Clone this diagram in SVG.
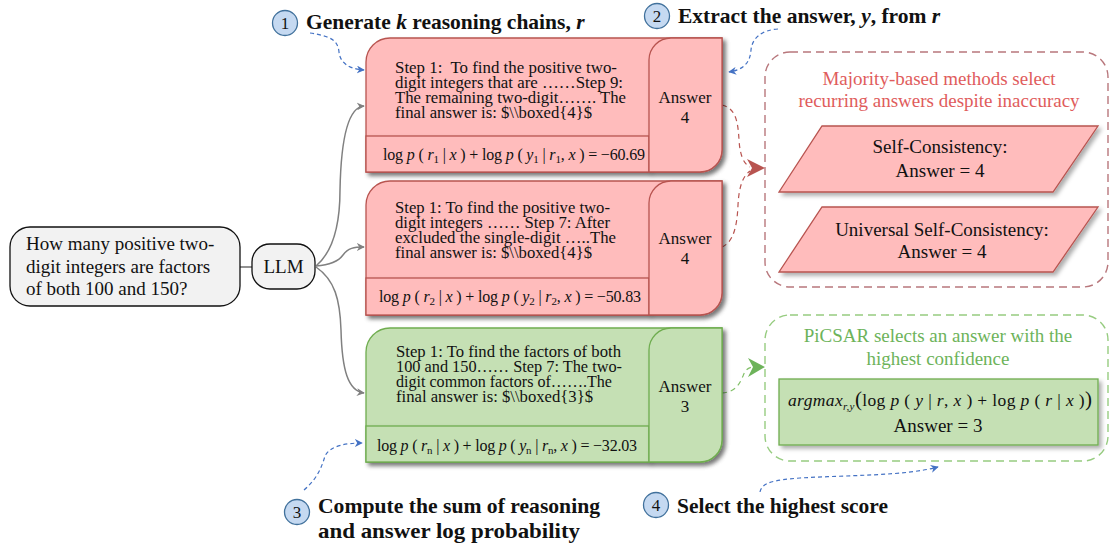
<svg xmlns="http://www.w3.org/2000/svg" width="1110" height="544" viewBox="0 0 1110 544">
  <defs>
    <filter id="shadow" x="-10%" y="-10%" width="125%" height="135%">
      <feDropShadow dx="3" dy="3" stdDeviation="2.2" flood-color="#000" flood-opacity="0.32"/>
    </filter>
    <marker id="arrGray" viewBox="0 0 10 10" refX="9" refY="5" markerWidth="8" markerHeight="8" markerUnits="userSpaceOnUse" orient="auto">
      <path d="M0,0 L10,5 L0,10 L3,5 Z" fill="#808080"/>
    </marker>
    <marker id="arrBlue" viewBox="0 0 10 10" refX="9" refY="5" markerWidth="8" markerHeight="8" markerUnits="userSpaceOnUse" orient="auto">
      <path d="M0,0 L10,5 L0,10 L3,5 Z" fill="#4472c4"/>
    </marker>
    <style>
      text { font-family: "Liberation Serif", "Times New Roman", serif; fill: #111; }
      .q { font-size: 19px; }
      .step { font-size: 16px; }
      .ans { font-size: 17px; text-anchor: middle; }
      .fm { font-size: 16px; }
      .i { font-style: italic; }
      .s { font-size: 11px; }
      .hd { font-size: 21.5px; font-weight: bold; }
      .hd2 { font-size: 21.5px; font-weight: bold; }
      .num { font-size: 17px; text-anchor: middle; }
      .mid { font-size: 19px; text-anchor: middle; }
      .redT { fill: #e05c5c; }
      .greenT { fill: #6db35a; }
      .redBox { fill: #ffbcbc; stroke: #b85450; stroke-width: 1.3; }
      .greenBox { fill: #c5e0b4; stroke: #6fad4f; stroke-width: 1.3; }
      .sh { filter: url(#shadow); }
      .circ { fill: #c5d9f1; stroke: #41719c; stroke-width: 1.3; }
      .gray { fill: none; stroke: #808080; stroke-width: 1.5; }
      .blue { fill: none; stroke: #4472c4; stroke-width: 1.2; stroke-dasharray: 4 3; }
      .redDash { fill: none; stroke: #b85450; stroke-width: 1.2; stroke-dasharray: 5 4; }
      .greenDash { fill: none; stroke: #82c068; stroke-width: 1.2; stroke-dasharray: 5 4; }
    </style>
  </defs>

  <!-- connectors -->
  <g id="connectors">
    <line x1="240" y1="267" x2="252" y2="267" stroke="#555" stroke-width="1.3"/>
    <path class="gray" d="M316,266 C335,250 340,220 340,190 C341,140 348,107 364,106" marker-end="url(#arrGray)"/>
    <path class="gray" d="M316,266 C330,265 338,262 343,255 C348,248 354,247 364,247" marker-end="url(#arrGray)"/>
    <path class="gray" d="M316,267 C335,280 340,300 341,330 C342,370 348,391 364,393" marker-end="url(#arrGray)"/>

    <path class="blue" d="M310,33 C330,36 338,40 339,52 C340,62 348,69 364,70" marker-end="url(#arrBlue)"/>
    <path class="blue" d="M778,29 C762,30 752,38 751,50 C750,64 742,70 729,72" marker-end="url(#arrBlue)"/>
    <path class="blue" d="M304,490 C318,478 322,466 325,456 C330,446 345,443 362,443" marker-end="url(#arrBlue)"/>
    <path class="blue" d="M760,492 C762,482 775,480 800,478 C850,475 905,476 938,467" marker-end="url(#arrBlue)"/>

    <path class="redDash" d="M722,105 C735,108 738,120 739,140 C740,156 744,164 750,167"/>
    <path class="redDash" d="M722,247 C733,242 737,228 738,205 C739,186 743,176 750,171"/>
    <path d="M765,168 L747,159 L752,168 L747,177 Z" fill="#b85450"/>

    <path class="greenDash" d="M722,393 C736,392 740,383 743,376 C745,370 748,368 752,367"/>
    <path d="M765,367 L748,358 L753,367 L748,377 Z" fill="#6db35a"/>
  </g>

  <!-- question -->
  <g id="question">
    <rect x="10" y="227" width="230" height="79" rx="20" fill="#f2f2f2" stroke="#111" stroke-width="1.3"/>
    <text class="q" x="26" y="250">How many positive two-</text>
    <text class="q" x="26" y="273">digit integers are factors</text>
    <text class="q" x="26" y="295">of both 100 and 150?</text>
  </g>

  <!-- LLM -->
  <g id="llm">
    <rect x="252" y="244" width="63" height="45" rx="18" fill="#f2f2f2" stroke="#111" stroke-width="1.3"/>
    <text class="q" x="283.5" y="273" text-anchor="middle">LLM</text>
  </g>

  <!-- chain 1 -->
  <g id="chain1">
    <path class="redBox sh" d="M366,62 A24,24 0 0 1 390,38 L722,38 L722,150 A22,22 0 0 1 700,172 L366,172 Z"/>
    <rect class="redBox sh" x="366" y="136" width="283" height="36"/>
    <path class="redBox sh" d="M649,60 A22,22 0 0 1 671,38 L722,38 L722,150 A22,22 0 0 1 700,172 L649,172 Z"/>
    <text class="step" x="395" y="73" textLength="222" lengthAdjust="spacingAndGlyphs">Step 1:&#160; To find the positive two-</text>
    <text class="step" x="395" y="88" textLength="228" lengthAdjust="spacingAndGlyphs">digit integers that are ……Step 9:</text>
    <text class="step" x="395" y="103" textLength="231" lengthAdjust="spacingAndGlyphs">The remaining two-digit……. The</text>
    <text class="step" x="395" y="118" textLength="197" lengthAdjust="spacingAndGlyphs">final answer is: $\\boxed{4}$</text>
    <text class="fm" x="383" y="160" textLength="262" lengthAdjust="spacing">log <tspan class="i">p</tspan> ( <tspan class="i">r</tspan><tspan class="s" dy="3">1</tspan><tspan dy="-3"> | </tspan><tspan class="i">x</tspan> ) + log <tspan class="i">p</tspan> ( <tspan class="i">y</tspan><tspan class="s" dy="3">1</tspan><tspan dy="-3"> | </tspan><tspan class="i">r</tspan><tspan class="s" dy="3">1</tspan><tspan dy="-3">, </tspan><tspan class="i">x</tspan> ) = −60.69</text>
    <text class="ans" x="685" y="103">Answer</text>
    <text class="ans" x="685" y="123">4</text>
  </g>

  <!-- chain 2 -->
  <g id="chain2">
    <path class="redBox sh" d="M366,205 A24,24 0 0 1 390,181 L722,181 L722,293 A22,22 0 0 1 700,315 L366,315 Z"/>
    <rect class="redBox sh" x="366" y="278" width="283" height="37"/>
    <path class="redBox sh" d="M649,203 A22,22 0 0 1 671,181 L722,181 L722,293 A22,22 0 0 1 700,315 L649,315 Z"/>
    <text class="step" x="395" y="213" textLength="215" lengthAdjust="spacingAndGlyphs">Step 1: To find the positive two-</text>
    <text class="step" x="395" y="228" textLength="215" lengthAdjust="spacingAndGlyphs">digit integers …… Step 7: After</text>
    <text class="step" x="395" y="243" textLength="221" lengthAdjust="spacingAndGlyphs">excluded the single-digit …..The</text>
    <text class="step" x="395" y="258" textLength="197" lengthAdjust="spacingAndGlyphs">final answer is: $\\boxed{4}$</text>
    <text class="fm" x="379" y="302" textLength="262" lengthAdjust="spacing">log <tspan class="i">p</tspan> ( <tspan class="i">r</tspan><tspan class="s" dy="3">2</tspan><tspan dy="-3"> | </tspan><tspan class="i">x</tspan> ) + log <tspan class="i">p</tspan> ( <tspan class="i">y</tspan><tspan class="s" dy="3">2</tspan><tspan dy="-3"> | </tspan><tspan class="i">r</tspan><tspan class="s" dy="3">2</tspan><tspan dy="-3">, </tspan><tspan class="i">x</tspan> ) = −50.83</text>
    <text class="ans" x="685" y="244">Answer</text>
    <text class="ans" x="685" y="264">4</text>
  </g>

  <!-- chain n -->
  <g id="chain3">
    <path class="greenBox sh" d="M366,352 A24,24 0 0 1 390,328 L722,328 L722,440 A22,22 0 0 1 700,462 L366,462 Z"/>
    <rect class="greenBox sh" x="366" y="426" width="283" height="36"/>
    <path class="greenBox sh" d="M649,350 A22,22 0 0 1 671,328 L722,328 L722,440 A22,22 0 0 1 700,462 L649,462 Z"/>
    <text class="step" x="396" y="357" textLength="225" lengthAdjust="spacingAndGlyphs">Step 1: To find the factors of both</text>
    <text class="step" x="396" y="372" textLength="226" lengthAdjust="spacingAndGlyphs">100 and 150…… Step 7: The two-</text>
    <text class="step" x="396" y="387" textLength="216" lengthAdjust="spacingAndGlyphs">digit common factors of…….The</text>
    <text class="step" x="396" y="402" textLength="197" lengthAdjust="spacingAndGlyphs">final answer is: $\\boxed{3}$</text>
    <text class="fm" x="377" y="451" textLength="260" lengthAdjust="spacing">log <tspan class="i">p</tspan> ( <tspan class="i">r</tspan><tspan class="s" dy="3">n</tspan><tspan dy="-3"> | </tspan><tspan class="i">x</tspan> ) + log <tspan class="i">p</tspan> ( <tspan class="i">y</tspan><tspan class="s" dy="3">n</tspan><tspan dy="-3"> | </tspan><tspan class="i">r</tspan><tspan class="s" dy="3">n</tspan><tspan dy="-3">, </tspan><tspan class="i">x</tspan> ) = −32.03</text>
    <text class="ans" x="685" y="392">Answer</text>
    <text class="ans" x="685" y="412">3</text>
  </g>

  <!-- majority-based methods -->
  <g id="majority">
    <rect x="765" y="52" width="343" height="235" rx="25" fill="none" stroke="#b8777c" stroke-width="1.4" stroke-dasharray="8 5"/>
    <text class="mid redT" x="939" y="85">Majority-based methods select</text>
    <text class="mid redT" x="939" y="107">recurring answers despite inaccuracy</text>
  </g>
  <g id="self-consistency">
    <polygon class="redBox sh" points="779,192 822,126 1098,126 1053,192"/>
    <text class="mid" x="940" y="153">Self-Consistency:</text>
    <text class="mid" x="940" y="177">Answer = 4</text>
  </g>
  <g id="universal-self-consistency">
    <polygon class="redBox sh" points="779,272 822,207 1098,207 1053,272"/>
    <text class="mid" x="942" y="236">Universal Self-Consistency:</text>
    <text class="mid" x="942" y="258">Answer = 4</text>
  </g>

  <!-- PiCSAR -->
  <g id="picsar">
    <rect x="765" y="315" width="343" height="146" rx="25" fill="none" stroke="#97cc80" stroke-width="1.4" stroke-dasharray="8 5"/>
    <text class="mid greenT" x="938" y="342">PiCSAR selects an answer with the</text>
    <text class="mid greenT" x="938" y="365">highest confidence</text>
  </g>
  <g id="picsar-score">
    <rect class="greenBox sh" x="779" y="379" width="319" height="66"/>
    <text x="788" y="406" font-size="17.5" textLength="304" lengthAdjust="spacing"><tspan class="i">argmax</tspan><tspan class="s i" dy="4">r,y</tspan><tspan dy="-4" font-size="21">(</tspan>log <tspan class="i">p</tspan> ( <tspan class="i">y</tspan> | <tspan class="i">r</tspan>, <tspan class="i">x</tspan> ) + log <tspan class="i">p</tspan> ( <tspan class="i">r</tspan> | <tspan class="i">x</tspan> )<tspan font-size="21">)</tspan></text>
    <text class="mid" x="938" y="432">Answer = 3</text>
  </g>

  <!-- step labels -->
  <g id="step1">
    <circle class="circ" cx="285" cy="23" r="12.5"/>
    <text class="num" x="285" y="29">1</text>
    <text class="hd" x="306" y="29">Generate <tspan font-style="italic">k</tspan> reasoning chains, <tspan font-style="italic">r</tspan></text>
  </g>
  <g id="step2">
    <circle class="circ" cx="657" cy="16" r="12.5"/>
    <text class="num" x="657" y="22">2</text>
    <text class="hd" x="678" y="23">Extract the answer, <tspan font-style="italic">y</tspan>, from <tspan font-style="italic">r</tspan></text>
  </g>
  <g id="step3">
    <circle class="circ" cx="297" cy="512" r="12.5"/>
    <text class="num" x="297" y="518">3</text>
    <text class="hd2" x="318" y="513" textLength="282" lengthAdjust="spacingAndGlyphs">Compute the sum of reasoning</text>
    <text class="hd2" x="318" y="538" textLength="262" lengthAdjust="spacingAndGlyphs">and answer log probability</text>
  </g>
  <g id="step4">
    <circle class="circ" cx="656" cy="505" r="12.5"/>
    <text class="num" x="656" y="511">4</text>
    <text class="hd2" x="677" y="513" textLength="211" lengthAdjust="spacingAndGlyphs">Select the highest score</text>
  </g>
</svg>
